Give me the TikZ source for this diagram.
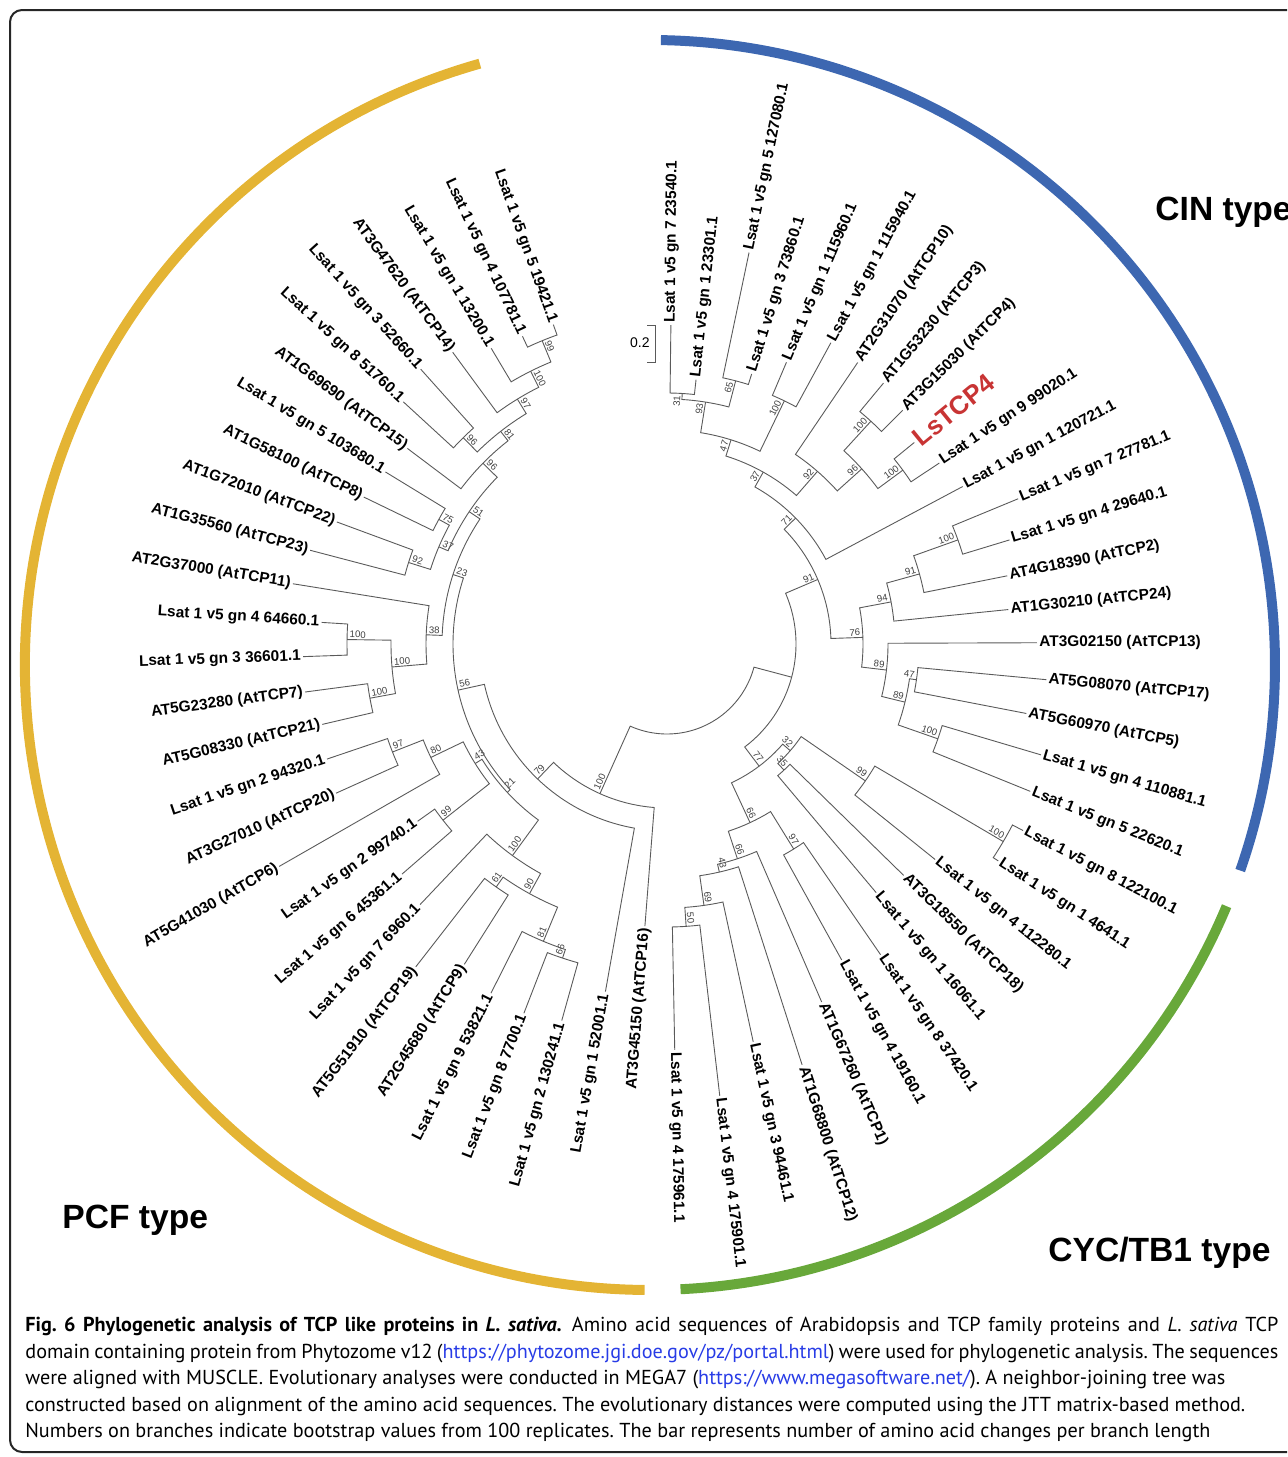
\documentclass[tikz,border=0pt]{standalone}
\usepackage{fontspec}
\setmainfont{Liberation Sans}
\newfontfamily\capfont{PT Sans}
\usetikzlibrary{calc}

\definecolor{cinblue}{RGB}{61,103,177}
\definecolor{cycgreen}{RGB}{104,168,58}
\definecolor{pcfgold}{RGB}{228,180,52}
\definecolor{lsred}{RGB}{200,52,52}
\definecolor{twig}{RGB}{90,90,90}
\definecolor{linkblue}{RGB}{40,60,230}

\tikzset{
  branch/.style={draw=twig, line width=0.45pt},
  leaflab/.style={font=\fontsize{7.7}{8}\selectfont\bfseries, inner sep=1pt},
  boot/.style={font=\fontsize{4.8}{5}\selectfont, inner sep=0.6pt, text=black!75},
  typelab/.style={font=\fontsize{16.8}{18}\selectfont\bfseries, inner sep=0pt},
  typearc/.style={line width=5pt}
}

% leaf: [style] name, index, tip radius, text
\newcommand{\leaf}[5][]{%
  \pgfmathsetmacro\lfang{89.3-(#3-1)*5.569}%
  \expandafter\xdef\csname tang#2\endcsname{\lfang}%
  \coordinate (#2) at (\lfang:#4);%
  \pgfmathparse{cos(\lfang)>=0 ? 1 : 0}%
  \ifdim\pgfmathresult pt>0.5pt
    \node[leaflab,anchor=west,rotate=\lfang,#1] (lab-#2) at (#2) {#5};%
  \else
    \pgfmathsetmacro\lfrot{\lfang+180}%
    \node[leaflab,anchor=east,rotate=\lfrot,#1] (lab-#2) at (#2) {#5};%
  \fi
}

% clade: name, radius, first child, second child, bootstrap
\newcommand{\clade}[5]{%
  \edef\cdaa{\csname tang#3\endcsname}%
  \edef\cdab{\csname tang#4\endcsname}%
  \pgfmathsetmacro\cdang{(\cdaa+\cdab)/2}%
  \expandafter\xdef\csname tang#1\endcsname{\cdang}%
  \coordinate (#1) at (\cdang:#2);%
  \draw[branch] (#3) -- (\cdaa:#2) arc[start angle=\cdaa, end angle=\cdab, radius=#2] -- (#4);%
  \if\relax\detokenize{#5}\relax\else
    \pgfmathsetmacro\cdlr{#2-1}%
    \pgfmathparse{cos(\cdang)>=0 ? 1 : 0}%
    \ifdim\pgfmathresult pt>0.5pt
      \node[boot,anchor=south east,rotate=\cdang] (bs-#1) at (\cdang:\cdlr) {#5};%
    \else
      \pgfmathsetmacro\cdrot{\cdang+180}%
      \node[boot,anchor=south west,rotate=\cdrot] (bs-#1) at (\cdang:\cdlr) {#5};%
    \fi
  \fi
}

\begin{document}
\begin{tikzpicture}[x=0.5pt,y=0.5pt]
\useasboundingbox (0,0) rectangle (1287,-1457);

% frame
\draw[line width=1pt, black!85, rounded corners=6] (1287,-10) -- (10,-10) -- (10,-1452) -- (1287,-1452);

% group arcs
\begin{scope}[shift={(650,-665)}]
  \draw[typearc, pcfgold] (105.8:625) arc[start angle=105.8, end angle=269.5, radius=625];
  \draw[typearc, cinblue] (89:625) arc[start angle=89, end angle=-19.2, radius=625];
  \draw[typearc, cycgreen] (-22.7:625) arc[start angle=-22.7, end angle=-87.2, radius=625];
\end{scope}

\node[typelab, anchor=west] (cin) at (1155,-212) {CIN type};
\node[typelab, anchor=west] (pcf) at (62,-1220) {PCF type};
\node[typelab, anchor=west] (cyc) at (1048,-1253) {CYC/TB1 type};

% tree
\begin{scope}[shift={(667,-644)}]
  % CIN
  \leaf{l01}{1}{319}{Lsat 1 v5 gn 7 23540.1}
  \leaf{l02}{2}{266}{Lsat 1 v5 gn 1 23301.1}
  \leaf{l03}{3}{400}{Lsat 1 v5 gn 5 127080.1}
  \leaf{l04}{4}{283}{Lsat 1 v5 gn 3 73860.1}
  \leaf{l05}{5}{306}{Lsat 1 v5 gn 1 115960.1}
  \leaf{l06}{6}{343}{Lsat 1 v5 gn 1 115940.1}
  \leaf{l07}{7}{340}{AT2G31070 (AtTCP10)}
  \leaf{l08}{8}{339}{AT1G53230 (AtTCP3)}
  \leaf{l09}{9}{332}{AT3G15030 (AtTCP4)}
  \leaf[text=lsred, font=\fontsize{13}{14}\selectfont\bfseries]{l10}{10}{319}{LsTCP4}
  \leaf{l11}{11}{327}{Lsat 1 v5 gn 9 99020.1}
  \leaf{l12}{12}{335}{Lsat 1 v5 gn 1 120721.1}
  \leaf{l13}{13}{380}{Lsat 1 v5 gn 7 27781.1}
  \leaf{l14}{14}{358}{Lsat 1 v5 gn 4 29640.1}
  \leaf{l15}{15}{347}{AT4G18390 (AtTCP2)}
  \leaf{l16}{16}{343}{AT1G30210 (AtTCP24)}
  \leaf{l17}{17}{370}{AT3G02150 (AtTCP13)}
  \leaf{l18}{18}{381}{AT5G08070 (AtTCP17)}
  \leaf{l19}{19}{366}{AT5G60970 (AtTCP5)}
  \leaf{l20}{20}{390}{Lsat 1 v5 gn 4 110881.1}
  \leaf{l21}{21}{392}{Lsat 1 v5 gn 5 22620.1}
  % CYC/TB1
  \leaf{l22}{22}{402}{Lsat 1 v5 gn 8 122100.1}
  \leaf{l23}{23}{396}{Lsat 1 v5 gn 1 4641.1}
  \leaf{l24}{24}{344}{Lsat 1 v5 gn 4 112280.1}
  \leaf{l25}{25}{331}{AT3G18550 (AtTCP18)}
  \leaf{l26}{26}{325}{Lsat 1 v5 gn 1 16061.1}
  \leaf{l27}{27}{377}{Lsat 1 v5 gn 8 37420.1}
  \leaf{l28}{28}{361}{Lsat 1 v5 gn 4 19160.1}
  \leaf{l29}{29}{390}{AT1G67260 (AtTCP1)}
  \leaf{l30}{30}{442}{AT1G68800 (AtTCP12)}
  \leaf{l31}{31}{407}{Lsat 1 v5 gn 3 94461.1}
  \leaf{l32}{32}{455}{Lsat 1 v5 gn 4 175901.1}
  \leaf{l33}{33}{406}{Lsat 1 v5 gn 4 175961.1}
  % PCF
  \leaf{l34}{34}{283}{AT3G45150 (AtTCP16)}
  \leaf{l35}{35}{353}{Lsat 1 v5 gn 1 52001.1}
  \leaf{l36}{36}{391}{Lsat 1 v5 gn 2 130241.1}
  \leaf{l37}{37}{396}{Lsat 1 v5 gn 8 7700.1}
  \leaf{l38}{38}{391}{Lsat 1 v5 gn 9 53821.1}
  \leaf{l39}{39}{379}{AT2G45680 (AtTCP9)}
  \leaf{l40}{40}{409}{AT5G51910 (AtTCP19)}
  \leaf{l41}{41}{359}{Lsat 1 v5 gn 7 6960.1}
  \leaf{l42}{42}{351}{Lsat 1 v5 gn 6 45361.1}
  \leaf{l43}{43}{306}{Lsat 1 v5 gn 2 99740.1}
  \leaf{l44}{44}{447}{AT5G41030 (AtTCP6)}
  \leaf{l45}{45}{363}{AT3G27010 (AtTCP20)}
  \leaf{l46}{46}{359}{Lsat 1 v5 gn 2 94320.1}
  \leaf{l47}{47}{354}{AT5G08330 (AtTCP21)}
  \leaf{l48}{48}{365}{AT5G23280 (AtTCP7)}
  \leaf{l49}{49}{364}{Lsat 1 v5 gn 3 36601.1}
  \leaf{l50}{50}{346}{Lsat 1 v5 gn 4 64660.1}
  \leaf{l51}{51}{379}{AT2G37000 (AtTCP11)}
  \leaf{l52}{52}{369}{AT1G35560 (AtTCP23)}
  \leaf{l53}{53}{352}{AT1G72010 (AtTCP22)}
  \leaf{l54}{54}{337}{AT1G58100 (AtTCP8)}
  \leaf{l55}{55}{330}{Lsat 1 v5 gn 5 103680.1}
  \leaf{l56}{56}{325}{AT1G69690 (AtTCP15)}
  \leaf{l57}{57}{358}{Lsat 1 v5 gn 8 51760.1}
  \leaf{l58}{58}{369}{Lsat 1 v5 gn 3 52660.1}
  \leaf{l59}{59}{362}{AT3G47620 (AtTCP14)}
  \leaf{l60}{60}{344}{Lsat 1 v5 gn 1 13200.1}
  \leaf{l61}{61}{340}{Lsat 1 v5 gn 4 107781.1}
  \leaf{l62}{62}{339}{Lsat 1 v5 gn 5 19421.1}

  % CIN clades
  \clade{c31}{251}{l01}{l02}{31}
  \clade{c65}{272}{l03}{l04}{65}
  \clade{c93}{245}{c31}{c65}{93}
  \clade{c100a}{270}{l05}{l06}{100}
  \clade{c47}{214}{c93}{c100a}{47}
  \clade{c100b}{302}{l08}{l09}{100}
  \clade{c100c}{293}{l10}{l11}{100}
  \clade{c96}{262}{c100b}{c100c}{96}
  \clade{c92}{229}{l07}{c96}{92}
  \clade{c37}{197}{c47}{c92}{37}
  \clade{c71}{180}{c37}{l12}{71}
  \clade{c100d}{309}{l13}{l14}{100}
  \clade{c91b}{262}{c100d}{l15}{91}
  \clade{c94}{228}{c91b}{l16}{94}
  \clade{c47b}{252}{l18}{l19}{47}
  \clade{c100e}{287}{l20}{l21}{100}
  \clade{c89b}{245}{c47b}{c100e}{89}
  \clade{c89a}{221}{l17}{c89b}{89}
  \clade{c76}{196}{c94}{c89a}{76}
  \clade{c91a}{164}{c71}{c76}{91}
  % CYC/TB1 clades
  \clade{c100f}{390}{l22}{l23}{100}
  \clade{c99}{241}{c100f}{l24}{99}
  \clade{c35}{172}{l25}{l26}{35}
  \clade{c32}{163}{c99}{c35}{32}
  \clade{c97}{241}{l27}{l28}{97}
  \clade{c50}{283}{l32}{l33}{50}
  \clade{c69}{264}{l31}{c50}{69}
  \clade{c43}{234}{l30}{c69}{43}
  \clade{c66b}{226}{l29}{c43}{66}
  \clade{c66a}{197}{c97}{c66b}{66}
  \clade{c77}{153}{c32}{c66a}{77}
  \clade{cx}{129}{c91a}{c77}{}
  % PCF clades
  \clade{c66p}{331}{l36}{l37}{66}
  \clade{c81p}{322}{c66p}{l38}{81}
  \clade{c61}{297}{l39}{l40}{61}
  \clade{c90}{285}{c81p}{c61}{90}
  \clade{c100u}{262}{c90}{l41}{100}
  \clade{c99q}{285}{l42}{l43}{99}
  \clade{c97q}{295}{l45}{l46}{97}
  \clade{c80}{262}{l44}{c97q}{80}
  \clade{c43p}{226}{c99q}{c80}{43}
  \clade{c21}{218}{c100u}{c43p}{21}
  \clade{c100s}{302}{l47}{l48}{100}
  \clade{c100q}{320}{l49}{l50}{100}
  \clade{c100t}{276}{c100s}{c100q}{100}
  \clade{c38}{241}{c100t}{l51}{38}
  \clade{c92p}{271}{l52}{l53}{92}
  \clade{c75}{260}{l54}{l55}{75}
  \clade{c37p}{248}{c92p}{c75}{37}
  \clade{c96a}{290}{l57}{l58}{96}
  \clade{c99p}{328}{l61}{l62}{99}
  \clade{c100p}{305}{l60}{c99p}{100}
  \clade{c97p}{287}{l59}{c100p}{97}
  \clade{c81q}{270}{c96a}{c97p}{81}
  \clade{c96b}{258}{l56}{c81q}{96}
  \clade{c51}{238}{c37p}{c96b}{51}
  \clade{c23}{225}{c38}{c51}{23}
  \clade{c56}{214}{c21}{c23}{56}
  \clade{c79}{187}{l35}{c56}{79}
  \clade{c100r}{164}{l34}{c79}{100}
  % root
  \clade{root}{90}{cx}{c100r}{}
\end{scope}

% scale bar
\coordinate (bar-top) at (655,-325);
\coordinate (bar-bot) at (655,-362);
\draw[branch] ($(bar-top)+(-8,0)$) -- (bar-top) -- (bar-bot) -- ($(bar-bot)+(-8,0)$);
\node[font=\fontsize{7}{8}\selectfont, anchor=east, inner sep=1pt] (bar-lab) at (652,-343) {0.2};

% caption
\node[anchor=north west, inner sep=0pt, align=left, font=\capfont\fontsize{10.1}{13.25}\selectfont\frenchspacing] (caption) at (25,-1317)
{\hbox to 626.5pt{{\bfseries Fig. 6 Phylogenetic analysis of TCP like proteins in \itshape L. sativa.}\enspace Amino acid sequences of Arabidopsis and TCP family proteins and \textit{L. sativa} TCP}\\
\hbox to 626.5pt{domain containing protein from Phytozome v12 ({\color{linkblue}https://phytozome.jgi.doe.gov/pz/portal.html}) were used for phylogenetic analysis. The sequences}\\
were aligned with MUSCLE. Evolutionary analyses were conducted in MEGA7 ({\color{linkblue}https://www.megasoftware.net/}). A neighbor-joining tree was\\
constructed based on alignment of the amino acid sequences. The evolutionary distances were computed using the JTT matrix-based method.\\
Numbers on branches indicate bootstrap values from 100 replicates. The bar represents number of amino acid changes per branch length};
\end{tikzpicture}
\end{document}
